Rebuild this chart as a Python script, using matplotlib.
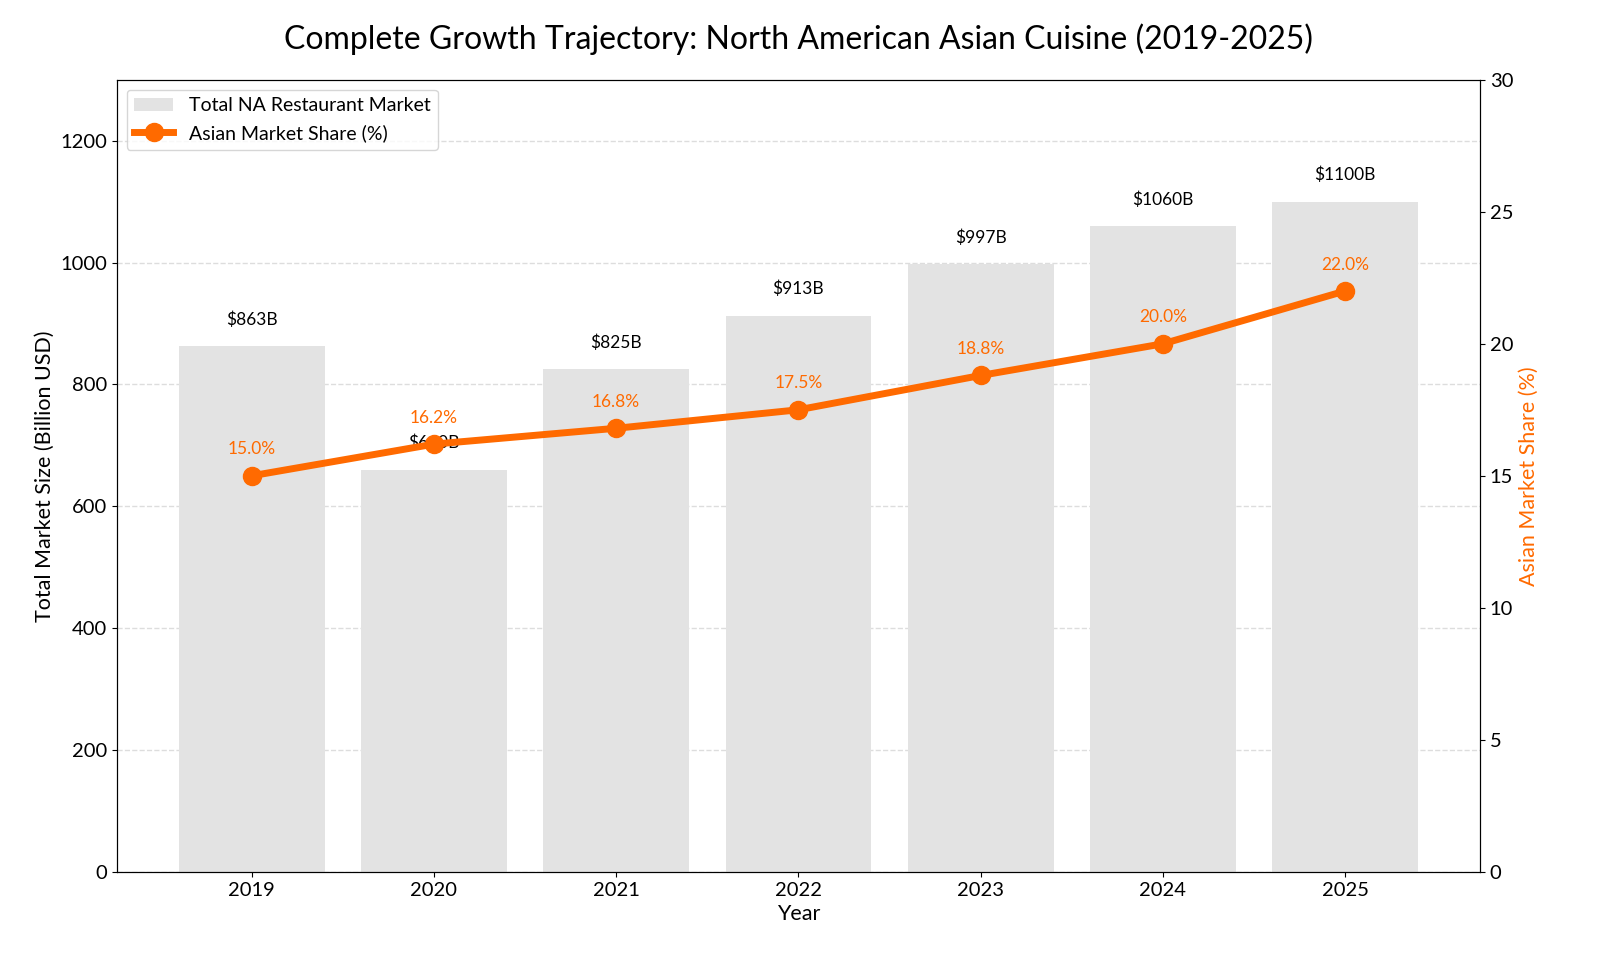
import numpy as np
import matplotlib.pyplot as plt

plt.rcParams['font.family'] = ['Lato', 'DejaVu Sans']

# data
years = ['2019', '2020', '2021', '2022', '2023', '2024', '2025']
market_size = [863, 660, 825, 913, 997, 1060, 1100]  # billion USD
asian_share = [15.0, 16.2, 16.8, 17.5, 18.8, 20.0, 22.0]  # percent

orange = '#ff6a00'

fig, ax1 = plt.subplots(figsize=(16, 9.73), dpi=100)
fig.subplots_adjust(left=0.073, right=0.925, top=0.918, bottom=0.104)

x = np.arange(len(years))
bars = ax1.bar(x, market_size, width=0.8, color='#e3e3e3', label='Total NA Restaurant Market', zorder=2)
for xi, v in zip(x, market_size):
    ax1.text(xi, v + 30, f'${v}B', ha='center', va='bottom', fontsize=12.5, zorder=3)

ax1.set_ylim(0, 1300)
ax1.set_xticks(x)
ax1.set_xticklabels(years)
ax1.set_xlabel('Year', fontsize=15.5)
ax1.set_ylabel('Total Market Size (Billion USD)', fontsize=15.5)
ax1.tick_params(labelsize=14.5)
ax1.grid(axis='y', linestyle='--', color='#dddddd', linewidth=1, zorder=0)

ax2 = ax1.twinx()
line, = ax2.plot(x, asian_share, color=orange, linewidth=5, marker='o', markersize=13,
                 label='Asian Market Share (%)', zorder=4)
for xi, v in zip(x, asian_share):
    ax2.text(xi, v + 1.0, f'{v:.1f}%', ha='center', va='center', fontsize=12.5, color=orange)
ax2.set_ylim(0, 30)
ax2.set_ylabel('Asian Market Share (%)', fontsize=15.5, color=orange)
ax2.tick_params(labelsize=14.5)

ax1.legend([bars, line], ['Total NA Restaurant Market', 'Asian Market Share (%)'],
           loc='upper left', fontsize=14)

ax1.set_title('Complete Growth Trajectory: North American Asian Cuisine (2019-2025)',
              fontsize=23, pad=22)

plt.savefig('out.png')
